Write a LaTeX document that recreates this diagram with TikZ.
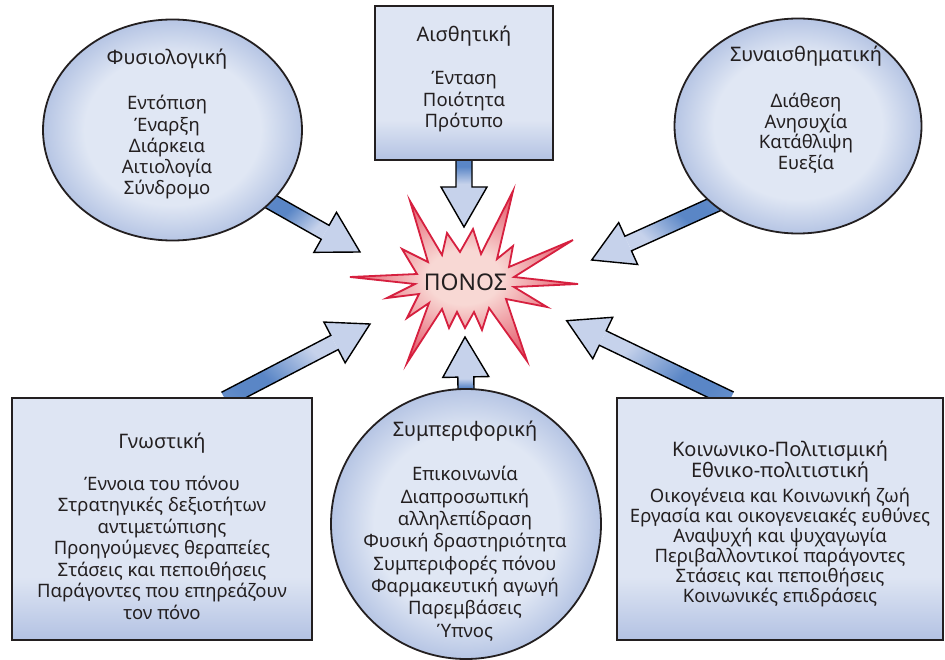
\documentclass[tikz,border=0pt]{standalone}
\usepackage{fontspec}
\setmainfont{Noto Sans}
\usetikzlibrary{shapes.geometric,calc,backgrounds}
\pgfdeclarelayer{whitebg}
\pgfsetlayers{whitebg,background,main}

\definecolor{lineC}{HTML}{231F20}
\definecolor{txtC}{HTML}{231F20}
\definecolor{boxTop}{HTML}{DEE5F3}
\definecolor{boxBot}{HTML}{B3C2E3}
\definecolor{cIn}{HTML}{E0E7F4}
\definecolor{cOut}{HTML}{B6C5E4}
\definecolor{arrLight}{HTML}{C6D2EB}
\definecolor{arrDark}{HTML}{5A86C6}
\definecolor{arrMid}{HTML}{7A9DD2}
\definecolor{starIn}{HTML}{F8D8D4}
\definecolor{starOut}{HTML}{E55A6C}
\definecolor{starLine}{HTML}{D6203F}

\pgfdeclareverticalshading{shaftshade}{100bp}{color(0bp)=(arrLight); color(30bp)=(arrLight); color(58bp)=(arrDark); color(72bp)=(arrDark); color(100bp)=(arrMid)}
\pgfdeclareradialshading{ballshade}{\pgfpoint{0bp}{0bp}}{color(0bp)=(cIn); color(17bp)=(cIn); color(25bp)=(cOut); color(50bp)=(cOut)}
\pgfdeclareradialshading{starshade}{\pgfpoint{0bp}{0bp}}{color(0bp)=(starIn); color(8bp)=(starIn); color(25bp)=(starOut); color(50bp)=(starOut)}
\pgfdeclareverticalshading{boxshade}{100bp}{color(0bp)=(boxBot); color(25bp)=(boxBot); color(38bp)=(boxTop); color(100bp)=(boxTop)}

\newcommand{\fatarrow}[3]{%
  \coordinate (faT) at ($(#1)!-5pt!(#2)$);
  \coordinate (faB) at ($(#2)!40pt!(faT)$);
  \coordinate (faS1) at ($(faT)!8pt!90:(#2)$);
  \coordinate (faS2) at ($(faT)!8pt!-90:(#2)$);
  \coordinate (faB1) at ($(faB)!8pt!90:(#2)$);
  \coordinate (faB2) at ($(faB)!8pt!-90:(#2)$);
  \coordinate (faH1) at ($(faB)!23pt!90:(#2)$);
  \coordinate (faH2) at ($(faB)!23pt!-90:(#2)$);
  \shade[shading=shaftshade, shading angle=#3] (faS1) -- (faB1) -- (faB2) -- (faS2) -- cycle;
  \fill[arrLight] (faH1) -- (#2) -- (faH2) -- cycle;
  \draw[arrline] (faS1) -- (faB1) -- (faH1) -- (#2) -- (faH2) -- (faB2) -- (faS2);
}

\begin{document}
\begin{tikzpicture}[x=1pt,y=-1pt,
  ballnode/.style={ellipse, draw=lineC, line width=1.8pt, shade, shading=ballshade, inner sep=0pt},
  boxnode/.style={rectangle, draw=lineC, line width=1.8pt, shade, shading=boxshade, inner sep=0pt},
  ttl/.style={font=\fontsize{20}{21}\selectfont, text=txtC, anchor=base, align=center, inner sep=0pt},
  body/.style={font=\fontsize{18.5}{21.5}\selectfont, text=txtC, anchor=base, align=center, inner sep=0pt},
  arrline/.style={draw=black, line width=1.4pt, line join=miter},
  starstyle/.style={draw=starLine, line width=1.8pt, line join=miter, shade, shading=starshade}
]
\begin{pgfonlayer}{whitebg}
\fill[white] (0,0) rectangle (945,660);
\end{pgfonlayer}
\useasboundingbox (0,0) rectangle (945,660);

% shapes
\node[ballnode, minimum width=259pt, minimum height=221pt] (phys) at (172.5,130) {};
\node[boxnode, minimum width=178pt, minimum height=154pt] (aist) at (464,83) {};
\node[ballnode, minimum width=247pt, minimum height=215pt] (emo) at (798,126) {};
\node[boxnode, minimum width=300pt, minimum height=242pt] (gno) at (162,519) {};
\node[ballnode, minimum width=270pt, minimum height=270pt] (beh) at (466,524) {};
\node[boxnode, minimum width=326pt, minimum height=242pt] (soc) at (780,519) {};

% star
\begin{scope}[shift={(465,282)}]
\draw[starstyle] (-115,-5) -- (-48,-8) -- (-63,-33) -- (-37,-20) -- (-55,-81) -- (-23,-27)
  -- (-18,-49) -- (-5,-30) -- (8,-53) -- (16,-28) -- (48,-91) -- (32,-23)
  -- (48,-36) -- (44,-15) -- (108,-42) -- (49,-5) -- (113,2) -- (49,5)
  -- (82,25) -- (41,17) -- (62,79) -- (24,26) -- (17,48) -- (9,30)
  -- (0,46) -- (-8,30) -- (-16,46) -- (-23,27) -- (-58,81) -- (-36,21)
  -- (-58,36) -- (-46,12) -- (-78,16) -- (-50,2) -- cycle;
\end{scope}
\node[font=\fontsize{23}{23}\selectfont, text=txtC, inner sep=0pt] (pain) at (465.5,282) {ΠΟΝΟΣ};

% arrow tips
\coordinate (tipPhys) at (360,252);
\coordinate (tipAist) at (464,227);
\coordinate (tipEmo) at (591.7,260);
\coordinate (tipGno) at (370,324);
\coordinate (tipSoc) at (566.7,320.7);
\coordinate (tipBeh) at (465,337);

\begin{scope}[on background layer]
\fatarrow{phys.-36}{tipPhys}{45}
\fatarrow{aist.south}{tipAist}{0}
\fatarrow{emo.223}{tipEmo}{-45}
\fatarrow{gno.61}{tipGno}{135}
\fatarrow{soc.114}{tipSoc}{-135}
\fatarrow{beh.north}{tipBeh}{180}
\end{scope}

% texts (base anchor = baseline of last line)
\node[ttl] (physTtl) at (167,65) {Φυσιολογική};
\node[body, font=\fontsize{18.5}{21.3}\selectfont] (physBody) at (167,195) {Εντόπιση\\Έναρξη\\Διάρκεια\\Αιτιολογία\\Σύνδρομο};

\node[ttl] (aistTtl) at (464,42) {Αισθητική};
\node[body] (aistBody) at (464,128) {Ένταση\\Ποιότητα\\Πρότυπο};

\node[ttl] (emoTtl) at (806,62) {Συναισθηματική};
\node[body, font=\fontsize{18.5}{20.5}\selectfont] (emoBody) at (806,169.5) {Διάθεση\\Ανησυχία\\Κατάθλιψη\\Ευεξία};

\node[ttl] (gnoTtl) at (162,448) {Γνωστική};
\node[body] (gnoBody) at (162,619) {Έννοια του πόνου\\Στρατηγικές δεξιοτήτων\\αντιμετώπισης\\Προηγούμενες θεραπείες\\Στάσεις και πεποιθήσεις\\Παράγοντες που επηρεάζουν\\τον πόνο};

\node[ttl] (behTtl) at (465,436) {Συμπεριφορική};
\node[body, font=\fontsize{18.5}{22.3}\selectfont] (behBody) at (465,637) {Επικοινωνία\\Διαπροσωπική\\αλληλεπίδραση\\Φυσική δραστηριότητα\\Συμπεριφορές πόνου\\Φαρμακευτική αγωγή\\Παρεμβάσεις\\Ύπνος};

\node[ttl] (socTtl) at (780,477) {Κοινωνικο-Πολιτισμική\\Εθνικο-πολιτιστική};
\node[body, font=\fontsize{18.5}{20}\selectfont] (socBody) at (780,602) {Οικογένεια και Κοινωνική ζωή\\Εργασία και οικογενειακές ευθύνες\\Αναψυχή και ψυχαγωγία\\Περιβαλλοντικοί παράγοντες\\Στάσεις και πεποιθήσεις\\Κοινωνικές επιδράσεις};
\end{tikzpicture}
\end{document}
